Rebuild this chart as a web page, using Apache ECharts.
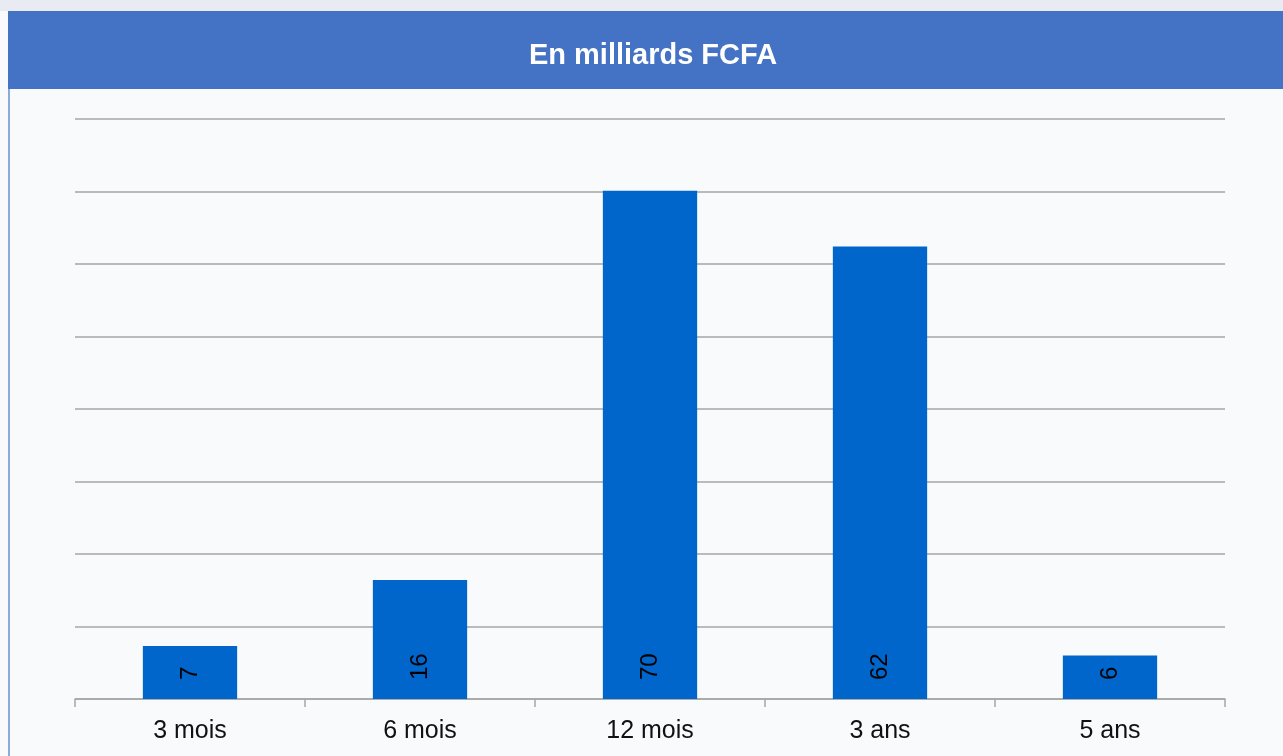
<!DOCTYPE html>
<html>
<head>
<meta charset="utf-8">
<script src="https://cdn.jsdelivr.net/npm/echarts@6/dist/echarts.min.js"></script>
<style>
  html, body { margin: 0; padding: 0; background: #e9ebf3; }
  #chart { width: 1283px; height: 756px; }
</style>
</head>
<body>
<div id="chart"></div>
<script>
// data (bar heights, labels shown rounded)
var categories = ["3 mois", "6 mois", "12 mois", "3 ans", "5 ans"];
var values = [7.3, 16.4, 70.1, 62.4, 6.0];
var titleText = "En milliards FCFA";

var chart = echarts.init(document.getElementById("chart"));
var option = {
  backgroundColor: "#f9fafc",
  animation: false,
  graphic: [
    {
      type: "rect",
      shape: { x: 0, y: 0, width: 1283, height: 11 },
      style: { fill: "#e9ebf3" },
      z: -1
    },
    {
      type: "rect",
      shape: { x: 8, y: 11, width: 1275, height: 78 },
      style: { fill: "#4472c4" },
      z: 0
    },
    {
      type: "rect",
      shape: { x: 8, y: 89, width: 2, height: 667 },
      style: { fill: "#8ea9db" },
      z: 0
    }
  ],
  title: {
    text: titleText,
    left: 648,
    top: 51,
    textAlign: "center",
    textVerticalAlign: "middle",
    textStyle: {
      color: "#ffffff",
      fontSize: 29,
      fontWeight: "bold",
      fontFamily: "Liberation Sans, Arial, sans-serif"
    },
    z: 10
  },
  grid: {
    left: 75,
    right: 58,
    top: 119,
    bottom: 57,
    containLabel: false
  },
  xAxis: {
    type: "category",
    data: categories,
    axisLine: { lineStyle: { color: "#a6a6a6", width: 1.5 } },
    axisTick: { show: true, length: 8, lineStyle: { color: "#a6a6a6", width: 1.5 } },
    axisLabel: {
      color: "#111111",
      fontSize: 25,
      margin: 20,
      fontFamily: "Liberation Sans, Arial, sans-serif"
    }
  },
  yAxis: {
    type: "value",
    min: 0,
    max: 80,
    interval: 10,
    axisLabel: { show: false },
    axisLine: { show: false },
    axisTick: { show: false },
    splitLine: { lineStyle: { color: "#a6a6a6", width: 1.5 } }
  },
  series: [
    {
      type: "bar",
      data: values,
      barWidth: "41%",
      itemStyle: { color: "#0066cc" },
      label: {
        show: true,
        position: "insideBottom",
        rotate: 90,
        align: "left",
        verticalAlign: "middle",
        distance: 19,
        color: "#000000",
        fontSize: 24,
        fontFamily: "Liberation Sans, Arial, sans-serif",
        formatter: function (p) { return Math.round(p.value); }
      }
    }
  ]
};
chart.setOption(option, true);
</script>
</body>
</html>
